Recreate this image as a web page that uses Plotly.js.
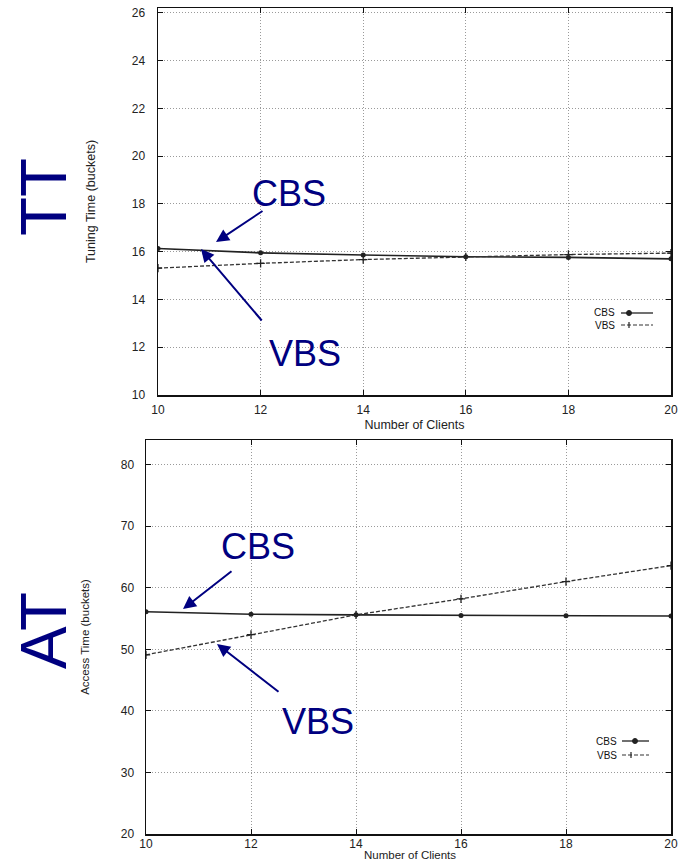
<!DOCTYPE html>
<html>
<head>
<meta charset="utf-8">
<script src="https://cdn.plot.ly/plotly-3.0.1.min.js"></script>
<style>
html,body{margin:0;padding:0;background:#fff;}
#chart{width:681px;height:860px;}
</style>
</head>
<body>
<div id="chart"></div>
<script>
// ---- data ----
const clients = [10, 12, 14, 16, 18, 20];
const ttCBS = [16.13, 15.95, 15.86, 15.79, 15.76, 15.70];
const ttVBS = [15.31, 15.51, 15.67, 15.78, 15.88, 15.94];
const atCBS = [56.1, 55.7, 55.6, 55.5, 55.45, 55.4];
const atVBS = [49.1, 52.4, 55.6, 58.2, 61.0, 63.6];
const xTicks = [10, 12, 14, 16, 18, 20];
const ttTicks = [10, 12, 14, 16, 18, 20, 22, 24, 26];
const atTicks = [20, 30, 40, 50, 60, 70, 80];
const seriesNames = ['CBS', 'VBS'];
const xTitle = 'Number of Clients';

// ---- layout helpers ----
const W = 681, H = 860;
const px = x => x / W;
const py = y => 1 - y / H;
const NAVY = '#000080';
const FONT = 'Liberation Sans, Arial, sans-serif';

function lineTrace(x, y, name, xa, ya, dashed) {
  return {
    x: x, y: y, name: name, xaxis: xa, yaxis: ya, type: 'scatter',
    mode: 'lines+markers', showlegend: false,
    line: {color: dashed ? '#333' : '#222', width: dashed ? 1.3 : 1.6, dash: dashed ? '4px,2px' : 'solid'},
    marker: dashed ? {symbol: 'cross-thin', size: 6, line: {color: '#222', width: 1.3}}
                   : {symbol: 'circle', size: 5, color: '#222'}
  };
}

const data = [
  lineTrace(clients, ttCBS, seriesNames[0], 'x', 'y', false),
  lineTrace(clients, ttVBS, seriesNames[1], 'x', 'y', true),
  lineTrace(clients, atCBS, seriesNames[0], 'x2', 'y2', false),
  lineTrace(clients, atVBS, seriesNames[1], 'x2', 'y2', true)
];

const GRID = {showgrid: true, gridcolor: '#9a9a9a', griddash: '1px,2px', gridwidth: 1};

function xAxis(domain, anchor, title, titleStandoff, titleSize, lblStandoff) {
  return Object.assign({
    domain: domain, anchor: anchor, range: [10, 20], tickvals: xTicks,
    showline: true, linecolor: '#111', linewidth: 1.5, mirror: 'ticks',
    ticks: 'inside', ticklen: 5, tickcolor: '#111',
    zeroline: false, ticklabelstandoff: lblStandoff,
    tickfont: {family: FONT, size: 12, color: '#222'},
    title: {text: title, font: {family: FONT, size: titleSize, color: '#222'}, standoff: titleStandoff}
  }, GRID);
}
function yAxis(domain, anchor, range, ticks, title, titleSize, standoff, lblStandoff) {
  return Object.assign({
    domain: domain, anchor: anchor, range: range, tickvals: ticks,
    showline: true, linecolor: '#111', linewidth: 1.5, mirror: 'ticks',
    ticks: 'inside', ticklen: 5, tickcolor: '#111',
    zeroline: false, ticklabelstandoff: lblStandoff,
    tickfont: {family: FONT, size: 12, color: '#222'},
    title: {text: title, font: {family: FONT, size: titleSize, color: '#222'}, standoff: standoff}
  }, GRID);
}

const annotations = [];
const shapes = [];

function bigText(text, x, y, size, angle) {
  annotations.push({text: text, xref: 'paper', yref: 'paper', x: px(x), y: py(y),
    xanchor: 'center', yanchor: 'middle', showarrow: false, textangle: angle || 0,
    font: {family: FONT, size: size, color: NAVY}});
}
function arrow(hx, hy, tx, ty) {
  annotations.push({text: '', xref: 'paper', yref: 'paper', x: px(hx), y: py(hy),
    ax: tx - hx, ay: ty - hy, showarrow: true, arrowhead: 2, arrowsize: 1.3,
    arrowwidth: 2, arrowcolor: NAVY, standoff: 0, startstandoff: 0});
}
function legend(textX, y1, y2, lineX0, lineX1, m1, m2) {
  const f = {family: FONT, size: 10, color: '#111'};
  annotations.push({text: seriesNames[0], xref: 'paper', yref: 'paper', x: px(textX), y: py(y1),
    xanchor: 'right', yanchor: 'middle', showarrow: false, font: f});
  annotations.push({text: seriesNames[1], xref: 'paper', yref: 'paper', x: px(textX), y: py(y2),
    xanchor: 'right', yanchor: 'middle', showarrow: false, font: f});
  shapes.push({type: 'line', xref: 'paper', yref: 'paper', x0: px(lineX0), x1: px(lineX1), y0: py(y1), y1: py(y1),
    line: {color: '#222', width: 1.3}});
  shapes.push({type: 'line', xref: 'paper', yref: 'paper', x0: px(lineX0), x1: px(lineX1), y0: py(y2), y1: py(y2),
    line: {color: '#333', width: 1.2, dash: '4px,2px'}});
  shapes.push({type: 'circle', xref: 'paper', yref: 'paper', xsizemode: 'pixel', ysizemode: 'pixel',
    xanchor: px(m1), yanchor: py(y1), x0: -2.5, x1: 2.5, y0: -2.5, y1: 2.5,
    fillcolor: '#222', line: {color: '#222', width: 1}});
  shapes.push({type: 'line', xref: 'paper', yref: 'paper', xsizemode: 'pixel', ysizemode: 'pixel',
    xanchor: px(m2), yanchor: py(y2), x0: 0, x1: 0, y0: -3, y1: 3, line: {color: '#222', width: 1.2}});
}

// Top chart annotations
bigText('TT', 44, 197, 64, -90);
bigText('CBS', 289, 193, 36);
bigText('VBS', 305, 353, 36);
arrow(216, 242, 264, 210);
arrow(201, 249, 263, 322);
legend(617, 313, 325, 621, 653, 629, 629);

// Bottom chart annotations
bigText('AT', 44, 631, 64, -90);
bigText('CBS', 258, 546, 36);
bigText('VBS', 318, 721, 36);
arrow(183, 609, 233, 570);
arrow(217, 644, 280, 693);
legend(619, 741, 755, 622, 649, 635, 631);

// bottom x-axis title (sits at the very bottom edge, as in the original)
annotations.push({text: xTitle, xref: 'paper', yref: 'paper', x: px(410), y: py(855),
  xanchor: 'center', yanchor: 'middle', showarrow: false,
  font: {family: FONT, size: 11.5, color: '#222'}});

const layout = {
  width: W, height: H,
  margin: {l: 0, r: 0, t: 0, b: 0},
  paper_bgcolor: '#fff', plot_bgcolor: '#fff',
  showlegend: false,
  xaxis: xAxis([px(158), px(671)], 'y', xTitle, 4, 12.5, 3),
  yaxis: yAxis([py(395), py(8)], 'x', [10, 26.2], ttTicks, 'Tuning Time (buckets)', 12.5, 33, 9),
  xaxis2: xAxis([px(146), px(671)], 'y2', '', 0, 11.5, -2),
  yaxis2: yAxis([py(834), py(440)], 'x2', [20, 84], atTicks, 'Access Time (buckets)', 11.5, 28, 8),
  annotations: annotations,
  shapes: shapes
};

Plotly.newPlot('chart', data, layout, {staticPlot: true, displayModeBar: false});
</script>
</body>
</html>
